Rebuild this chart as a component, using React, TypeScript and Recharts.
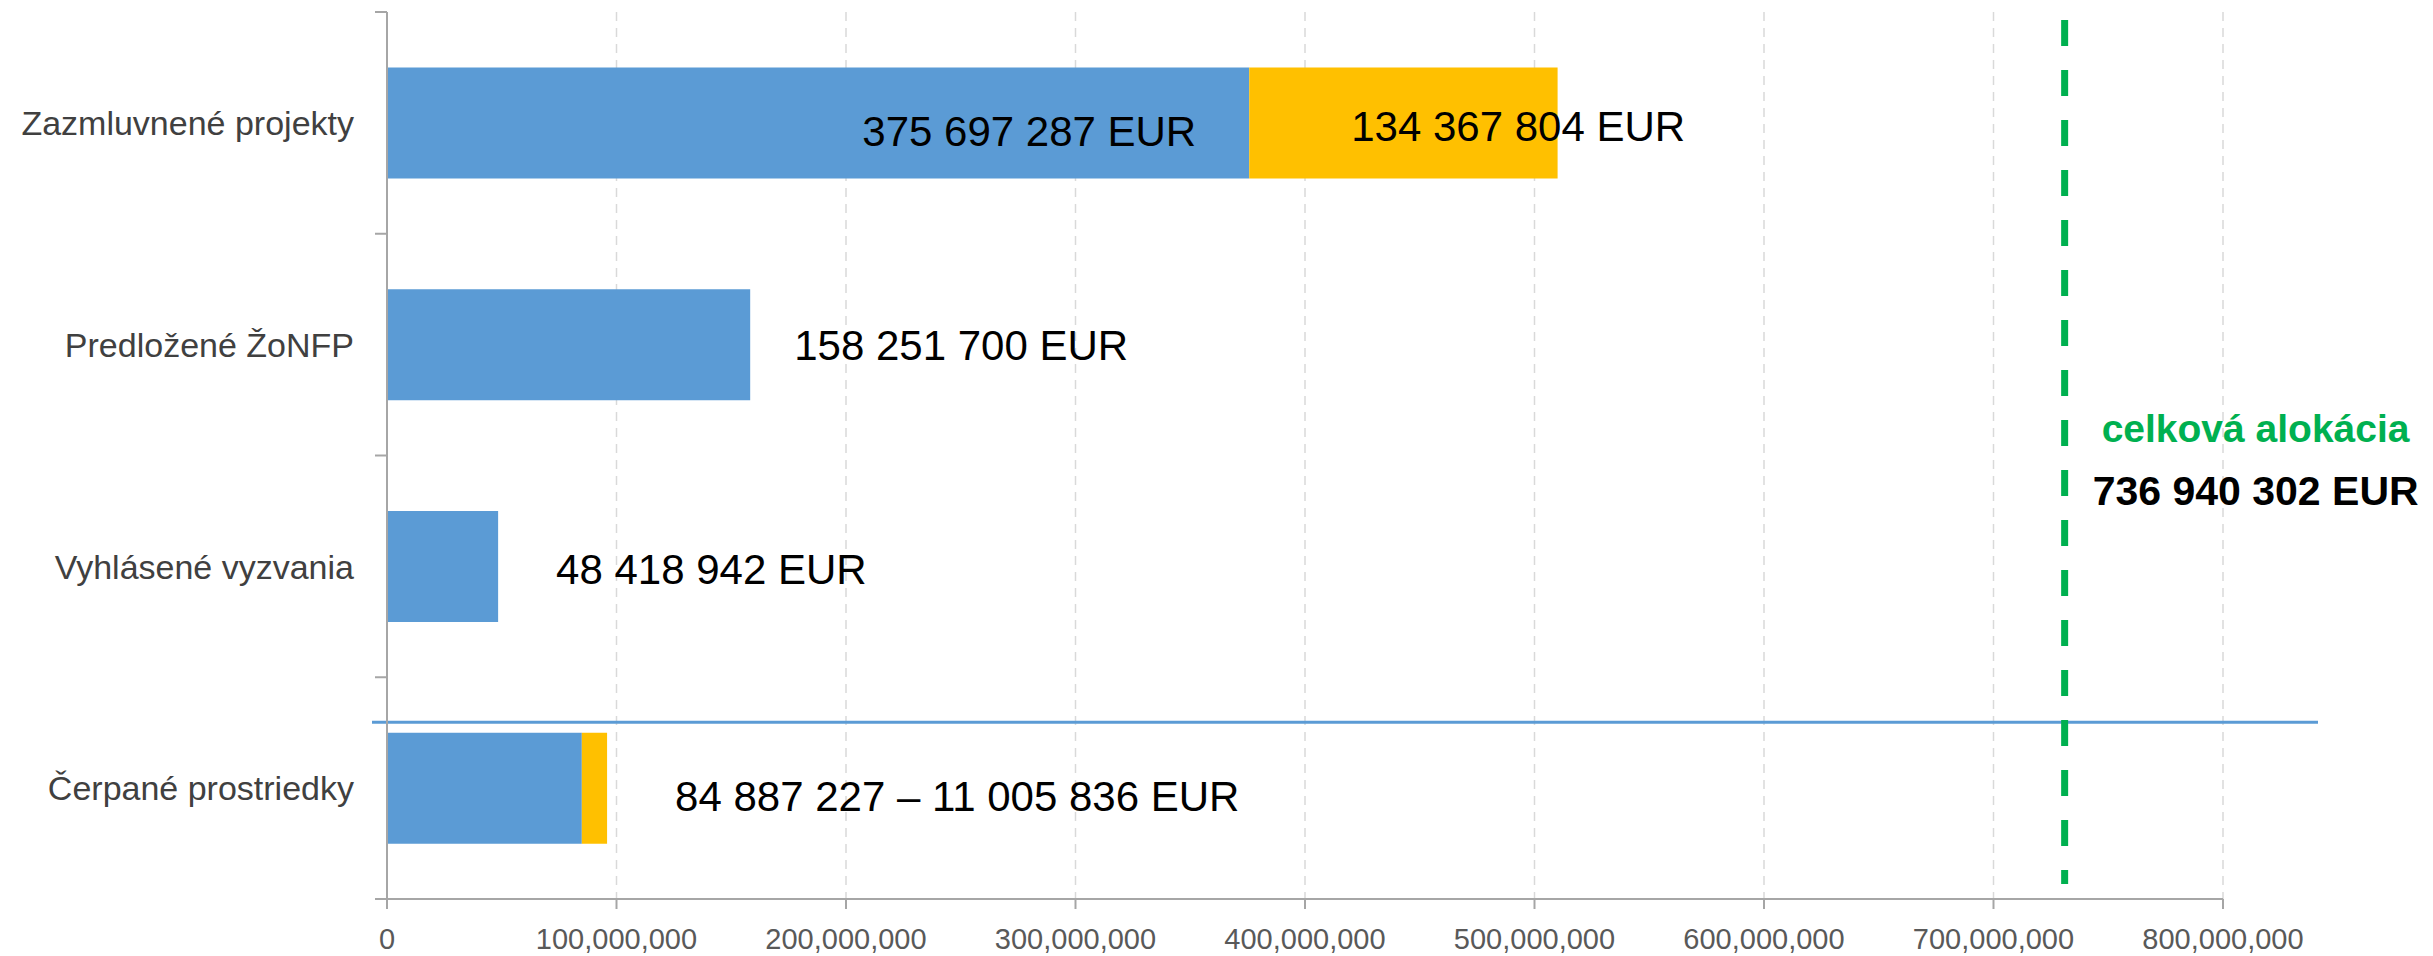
import React from "react";
import { Bar, BarChart, CartesianGrid, LabelList, ReferenceLine, XAxis, YAxis } from "recharts";

// categories top -> bottom
const categories = [
  "Zazmluvnené projekty",
  "Predložené ŽoNFP",
  "Vyhlásené vyzvania",
  "Čerpané prostriedky",
];
const baseValues = [375697287, 158251700, 48418942, 84887227];
const topValues = [134367804, 0, 0, 11005836];
const xTicks = [0, 100000000, 200000000, 300000000, 400000000, 500000000, 600000000, 700000000, 800000000];
const allocationTotal = 736940302;
const allocationLinePos = 731000000; // where the dashed line sits in the source picture

const W = 2433;
const H = 956;
const M_TOP = 12;
const X_AXIS_H = 57;
const Y_AXIS_W = 387;
const BAND = (H - M_TOP - X_AXIS_H) / categories.length;

const FONT = "'Liberation Sans', Arial, sans-serif";
const AXIS_GREY = "#a6a6a6";
const BLUE = "#5B9BD5";
const GOLD = "#FFC000";
const GREEN = "#00B050";

const fmt = (v: number) => String(v).replace(/\B(?=(\d{3})+(?!\d))/g, " ");

const data = categories.map((name, i) => ({
  name,
  base: baseValues[i],
  top: topValues[i] || null,
}));

const baseLabels = [`${fmt(baseValues[0])} EUR`, `${fmt(baseValues[1])} EUR`, `${fmt(baseValues[2])} EUR`, null];
const topLabels = [`${fmt(topValues[0])} EUR`, null, null, `${fmt(baseValues[3])} – ${fmt(topValues[3])} EUR`];

// label placement per category (relative to the bar), layout only
type Place = { from: "start" | "end"; anchor: "start" | "end"; dx: number; dy: number };
const basePlace: Record<number, Place> = {
  0: { from: "end", anchor: "end", dx: -53, dy: 8 },
  1: { from: "end", anchor: "start", dx: 44, dy: 0 },
  2: { from: "end", anchor: "start", dx: 58, dy: 2 },
};
const topPlace: Record<number, Place> = {
  0: { from: "start", anchor: "start", dx: 102, dy: 3 },
  3: { from: "end", anchor: "start", dx: 68, dy: 8 },
};

function makeLabel(values: number[], texts: (string | null)[], places: Record<number, Place>) {
  return (props: any) => {
    // LabelList may skip empty entries, so find the category by its value
    const idx = values.indexOf(Number(props.value));
    const text = texts[idx];
    const place = places[idx];
    if (idx < 0 || !text || !place) return null;
    const vb = props.viewBox && props.viewBox.width !== undefined ? props.viewBox : props;
    const x = Number(vb.x);
    const w = Number(vb.width) || 0;
    const y = Number(vb.y) + (Number(vb.height) || 0) / 2;
    const ax = (place.from === "start" ? x : x + w) + place.dx;
    return (
      <text
        x={ax}
        y={y + place.dy}
        dy="0.36em"
        textAnchor={place.anchor}
        fill="#000"
        fontSize={42}
        fontFamily={FONT}
      >
        {text}
      </text>
    );
  };
}

function CategoryTick(props: any) {
  const { x, y, payload, index } = props;
  const half = BAND / 2;
  const ax = x + 33; // axis line x (tickSize 12 + tickMargin 21)
  return (
    <g>
      <text x={x} y={y} dy="0.36em" textAnchor="end" fill="#404040" fontSize={34} fontFamily={FONT}>
        {payload.value}
      </text>
      <line x1={ax - 12} x2={ax} y1={y - half} y2={y - half} stroke={AXIS_GREY} strokeWidth={2} />
      {index === categories.length - 1 && (
        <line x1={ax - 12} x2={ax} y1={y + half} y2={y + half} stroke={AXIS_GREY} strokeWidth={2} />
      )}
    </g>
  );
}

const separatorShape = (p: any) => (
  <line x1={p.x1 - 15} x2={p.x2 + 95} y1={p.y1 - 66} y2={p.y2 - 66} stroke={BLUE} strokeWidth={3} />
);

const allocationShape = (p: any) => (
  <line
    x1={p.x1}
    x2={p.x2}
    y1={Math.min(p.y1, p.y2) + 8}
    y2={Math.max(p.y1, p.y2) - 15}
    stroke={GREEN}
    strokeWidth={7}
    strokeDasharray="26 24"
  />
);

const allocationLabel = (props: any) => {
  const vb = props.viewBox || {};
  const x = Number(vb.x);
  const mid = Number(vb.y) + Number(vb.height) / 2;
  return (
    <g fontFamily={FONT} fontWeight="bold">
      <text x={x + 37} y={mid - 28} dy="0.36em" fill={GREEN} fontSize={39}>
        celková alokácia
      </text>
      <text x={x + 28} y={mid + 35} dy="0.36em" fill="#000" fontSize={41}>
        {fmt(allocationTotal)} EUR
      </text>
    </g>
  );
};

export default function App() {
  return (
    <div style={{ position: "absolute", left: 0, top: 0, width: W, height: H, background: "#fff" }}>
      <BarChart
        width={W}
        height={H}
        data={data}
        layout="vertical"
        margin={{ top: M_TOP, right: W - 2223, bottom: 0, left: 0 }}
        barCategoryGap="25%"
      >
        <CartesianGrid horizontal={false} stroke="#d9d9d9" strokeDasharray="9 7" strokeWidth={1.5} />
        <XAxis
          type="number"
          domain={[0, 800000000]}
          ticks={xTicks}
          interval={0}
          height={X_AXIS_H}
          tickSize={10}
          tickMargin={19}
          stroke={AXIS_GREY}
          strokeWidth={2}
          tick={{ fill: "#595959", fontSize: 29, fontFamily: FONT }}
          tickFormatter={(v: number) => v.toLocaleString("en-US")}
        />
        <YAxis
          type="category"
          dataKey="name"
          width={Y_AXIS_W}
          interval={0}
          tickLine={false}
          tickSize={12}
          tickMargin={21}
          stroke={AXIS_GREY}
          strokeWidth={2}
          tick={<CategoryTick />}
        />
        <Bar dataKey="base" stackId="s" fill={BLUE} isAnimationActive={false}>
          <LabelList dataKey="base" content={makeLabel(baseValues, baseLabels, basePlace)} />
        </Bar>
        <Bar dataKey="top" stackId="s" fill={GOLD} isAnimationActive={false}>
          <LabelList dataKey="top" content={makeLabel(topValues, topLabels, topPlace)} />
        </Bar>
        <ReferenceLine y={categories[3]} position="middle" shape={separatorShape} />
        <ReferenceLine
          x={allocationLinePos}
          shape={allocationShape}
          label={allocationLabel}
        />
      </BarChart>
    </div>
  );
}
